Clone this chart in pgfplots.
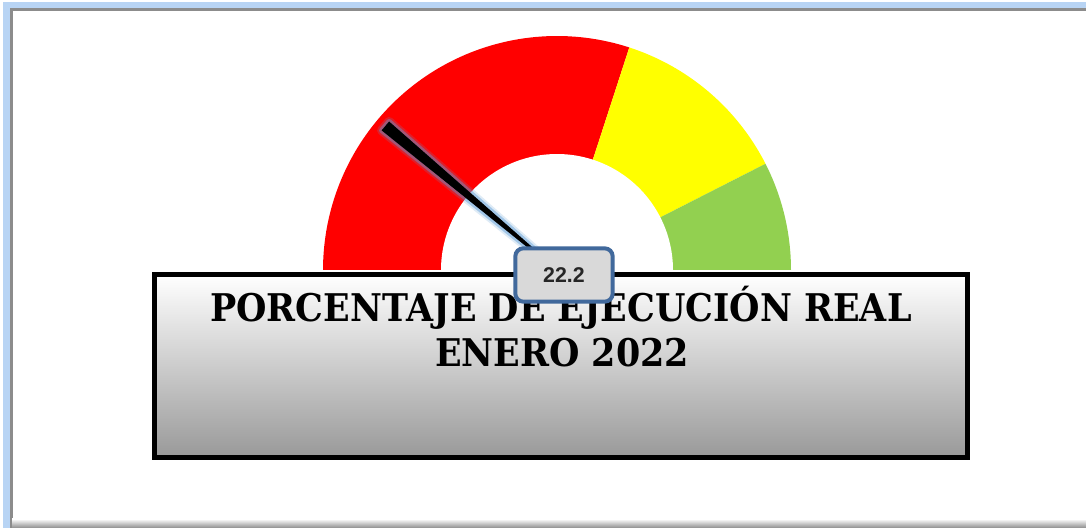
\documentclass[border=0pt]{standalone}
\usepackage{pgfplots}
\pgfplotsset{compat=1.18}
\usepackage{fontspec}
\setmainfont{DejaVu Serif}
\newfontfamily\arialf{Liberation Sans}
\definecolor{gred}{HTML}{FF0000}
\definecolor{gyel}{HTML}{FFFF00}
\definecolor{ggreen}{HTML}{92D050}
\definecolor{lblue}{HTML}{B8D4F4}
\definecolor{framegray}{HTML}{8C8C8C}
\definecolor{lblborder}{HTML}{41699C}
\definecolor{lblfill}{HTML}{D9D9D9}
\definecolor{glow}{HTML}{5B9BD5}
\begin{document}
\begin{tikzpicture}
\begin{axis}[hide axis, scale only axis, x=0.75pt, y=0.75pt,
  xmin=0, xmax=1086, ymin=0, ymax=528, clip=false]
% frame (pixel coordinates, y upward)
\fill[white] (axis cs:0,0) rectangle (axis cs:1086,528);
\draw[lblue, line width=4.5pt] (axis cs:6.5,0) -- (axis cs:6.5,522.5) -- (axis cs:1086,522.5);
\draw[framegray, line width=2pt] (axis cs:11.5,0) -- (axis cs:11.5,518.5) -- (axis cs:1086,518.5);
\fill[top color=white, bottom color=black!45] (axis cs:12,0) rectangle (axis cs:1086,9);
% gauge sectors: 0-60 red, 60-85 yellow, 85-100 green (scale 0..100 over 180 deg)
\addplot[draw=none, fill=gred, domain=0:60, samples=80]
  ({557+234*cos(180-1.8*x)}, {258+234*sin(180-1.8*x)}) -- (axis cs:557,258) -- cycle;
\addplot[draw=none, fill=gyel, domain=60:85, samples=40]
  ({557+234*cos(180-1.8*x)}, {258+234*sin(180-1.8*x)}) -- (axis cs:557,258) -- cycle;
\addplot[draw=none, fill=ggreen, domain=85:100, samples=30]
  ({557+234*cos(180-1.8*x)}, {258+234*sin(180-1.8*x)}) -- (axis cs:557,258) -- cycle;
\addplot[draw=none, fill=white, domain=0:100, samples=100]
  ({557+116*cos(180-1.8*x)}, {258+116*sin(180-1.8*x)}) -- cycle;
% needle at 22.2
\addplot[draw=glow, draw opacity=0.2, line width=7pt, line join=round, fill=none]
  coordinates {(556.5,257.4) (381.7,397.6) (389.1,406.4) (557.5,258.6)} -- cycle;
\addplot[draw=glow, draw opacity=0.45, line width=4pt, line join=round, fill=black]
  coordinates {(556.5,257.4) (381.7,397.6) (389.1,406.4) (557.5,258.6)} -- cycle;
\addplot[draw=none, fill=black]
  coordinates {(556.5,257.4) (381.7,397.6) (389.1,406.4) (557.5,258.6)} -- cycle;
% title box
\draw[line width=3.75pt, top color=white, bottom color=black!40]
  (axis cs:154.5,70.5) rectangle (axis cs:967.5,253.5);
\node[anchor=base, inner sep=0pt] at (axis cs:561,206)
  {\scalebox{0.97}[1.06]{\fontsize{27}{30}\selectfont\bfseries PORCENTAJE DE EJECUCIÓN REAL}};
\node[anchor=base, inner sep=0pt] at (axis cs:562,161)
  {\scalebox{0.97}[1.06]{\fontsize{27}{30}\selectfont\bfseries ENERO 2022}};
% value label
\node[draw=lblborder, line width=3pt, fill=lblfill, rounded corners=6pt,
  minimum width=73pt, minimum height=40pt, inner sep=0pt]
  at (axis cs:564,253) {\arialf\bfseries\fontsize{16}{18}\selectfont\color{black!85} 22.2};
\end{axis}
\pgfresetboundingbox
\path[use as bounding box] (0,0) rectangle (814.5pt,396pt);
\end{tikzpicture}
\end{document}
